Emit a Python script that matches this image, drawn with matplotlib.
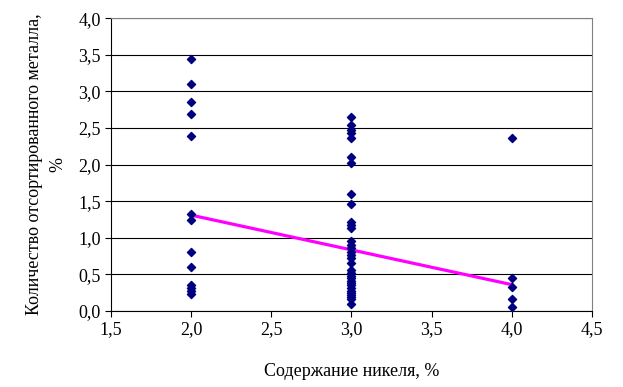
import numpy as np
import matplotlib
matplotlib.use("Agg")
import matplotlib.pyplot as plt
from matplotlib.ticker import FuncFormatter

# =========================
# DATA
# =========================
nickel_2 = [3.44, 3.10, 2.86, 2.69, 2.39, 1.33, 1.24, 0.80, 0.60,
            0.36, 0.31, 0.27, 0.23]
nickel_3 = [2.65, 2.54, 2.47, 2.43, 2.37, 2.10, 2.02, 1.60, 1.46,
            1.22, 1.17, 1.13, 0.95, 0.90, 0.86, 0.81, 0.77, 0.72, 0.66,
            0.56, 0.52, 0.48, 0.45, 0.41, 0.38, 0.35, 0.31, 0.28, 0.25,
            0.22, 0.19, 0.17, 0.10]
nickel_4 = [2.36, 0.45, 0.33, 0.16, 0.06]

trend_x = [2.0, 4.0]
trend_y = [1.31, 0.36]

x_ticks = [1.5, 2.0, 2.5, 3.0, 3.5, 4.0, 4.5]
y_ticks = [0.0, 0.5, 1.0, 1.5, 2.0, 2.5, 3.0, 3.5, 4.0]

x_vals = [2.0] * len(nickel_2) + [3.0] * len(nickel_3) + [4.0] * len(nickel_4)
y_vals = nickel_2 + nickel_3 + nickel_4

# =========================
# PLOT
# =========================
plt.rcParams["font.family"] = ["Liberation Serif", "DejaVu Serif"]
plt.rcParams["font.size"] = 13

fig = plt.figure(figsize=(6.23, 3.87), dpi=100)
ax = fig.add_axes([0.1782, 0.1964, 0.7720, 0.7563])

ax.set_axisbelow(True)
ax.grid(axis="y", color="black", linewidth=0.8)
ax.scatter(x_vals, y_vals, marker="D", s=17, color="#000080", zorder=3)
ax.plot(trend_x, trend_y, color="#FF00FF", linewidth=2.3, zorder=2)

ax.set_xlim(1.5, 4.5)
ax.set_ylim(0, 4.0)
ax.set_xticks(x_ticks)
ax.set_yticks(y_ticks)
comma = FuncFormatter(lambda v, p: f"{v:.1f}".replace(".", ","))
ax.xaxis.set_major_formatter(comma)
ax.yaxis.set_major_formatter(comma)
ax.tick_params(direction="out", length=4.5, width=0.8, color="black",
               labelsize=13, pad=3)

ax.spines["left"].set_color("black")
ax.spines["bottom"].set_color("black")
ax.spines["top"].set_color("#808080")
ax.spines["right"].set_color("#808080")
for s in ax.spines.values():
    s.set_linewidth(0.8)

ax.set_xlabel("Содержание никеля, %", fontsize=13, labelpad=18)
ax.set_ylabel("Количество отсортированного металла,\n%", fontsize=13,
              labelpad=8, linespacing=1.5)

fig.savefig("out.png", dpi=100)
